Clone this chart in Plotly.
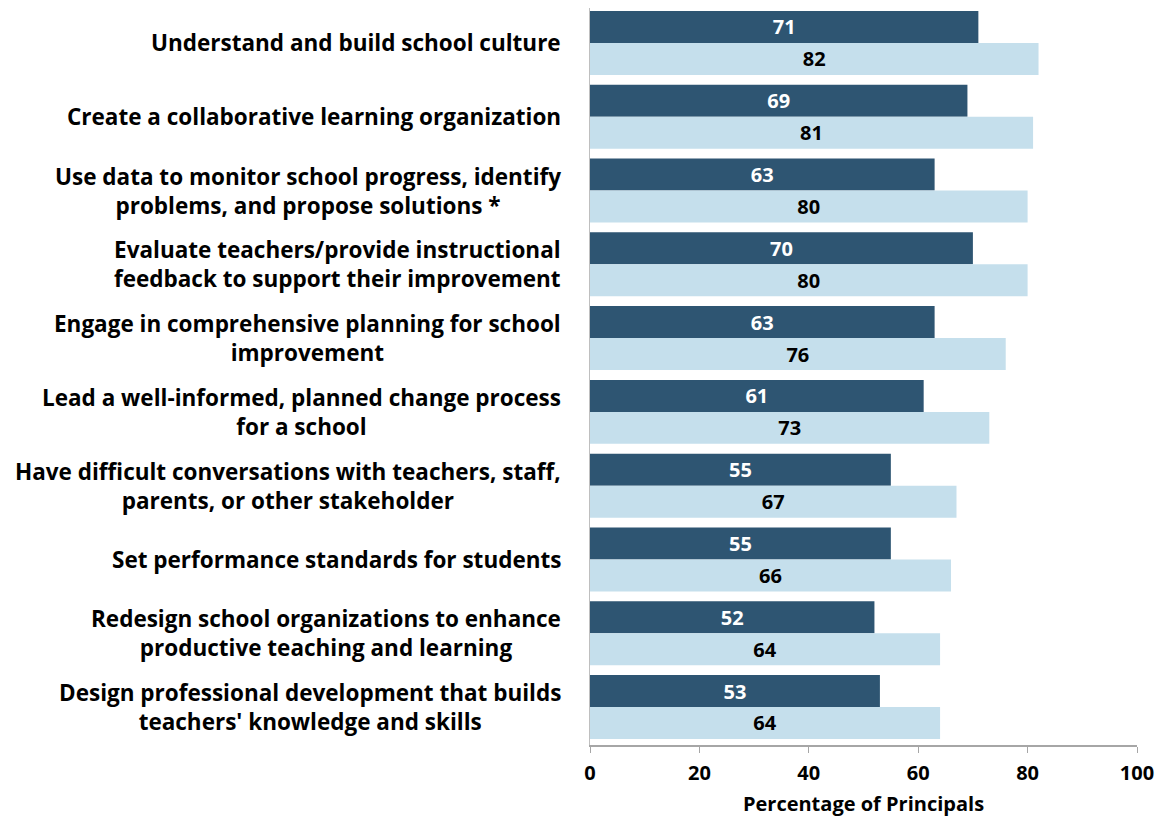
import plotly.graph_objects as go

categories = [
    "Understand and build school culture",
    "Create a collaborative learning organization",
    "Use data to monitor school progress, identify<br>problems, and propose solutions *",
    "Evaluate teachers/provide instructional<br>feedback to support their improvement",
    "Engage in comprehensive planning for school<br>improvement",
    "Lead a well-informed, planned change process<br>for a school",
    "Have difficult conversations with teachers, staff,<br>parents, or other stakeholder",
    "Set performance standards for students",
    "Redesign school organizations to enhance<br>productive teaching and learning",
    "Design professional development that builds<br>teachers' knowledge and skills",
]
series_a = [71, 69, 63, 70, 63, 61, 55, 55, 52, 53]
series_b = [82, 81, 80, 80, 76, 73, 67, 66, 64, 64]
x_ticks = [0, 20, 40, 60, 80, 100]
x_title = "Percentage of Principals"

FONT = "Open Sans"
DARK = "#2E5572"
LIGHT = "#C5DFEC"

keys = list(range(len(categories)))

fig = go.Figure()
fig.add_trace(go.Bar(
    y=keys, x=series_a, orientation="h", marker=dict(color=DARK, line=dict(width=0)),
    text=[str(v) for v in series_a], textposition="inside", insidetextanchor="middle",
    textangle=0, constraintext="none",
    textfont=dict(family=FONT, size=20, color="white", weight="bold"), showlegend=False,
))
fig.add_trace(go.Bar(
    y=keys, x=series_b, orientation="h", marker=dict(color=LIGHT, line=dict(width=0)),
    text=[str(v) for v in series_b], textposition="inside", insidetextanchor="middle",
    textangle=0, constraintext="none",
    textfont=dict(family=FONT, size=20, color="black", weight="bold"), showlegend=False,
))

annotations = [
    dict(
        xref="paper", yref="y", x=0, y=k, xanchor="right", yanchor="middle",
        xshift=-27, text=label, showarrow=False, align="center",
        font=dict(family=FONT, size=22.5, color="black", weight="bold"),
    )
    for k, label in zip(keys, categories)
]

fig.update_layout(
    width=1157, height=809,
    margin=dict(l=582, r=28, t=0, b=72),
    plot_bgcolor="white", paper_bgcolor="white",
    barmode="group", bargap=0.133, bargroupgap=0,
    annotations=annotations,
    uniformtext=dict(minsize=8, mode="show"),
)
fig.update_yaxes(
    range=[9.515, -0.474], showticklabels=False, ticks="",
    showline=True, linecolor="#BFBFBF", linewidth=1, showgrid=False, zeroline=False,
)
fig.update_xaxes(
    range=[0, 100], tickvals=x_ticks, ticktext=[str(t) for t in x_ticks],
    ticks="outside", ticklen=6, tickcolor="#A6A6A6", ticklabelstandoff=3,
    showline=True, linecolor="#A6A6A6", linewidth=2, showgrid=False, zeroline=False,
    tickfont=dict(family=FONT, size=20, color="black", weight="bold"),
    title=dict(text=x_title, font=dict(family=FONT, size=20, color="black", weight="bold"), standoff=12),
)

fig.write_html("out.html")
